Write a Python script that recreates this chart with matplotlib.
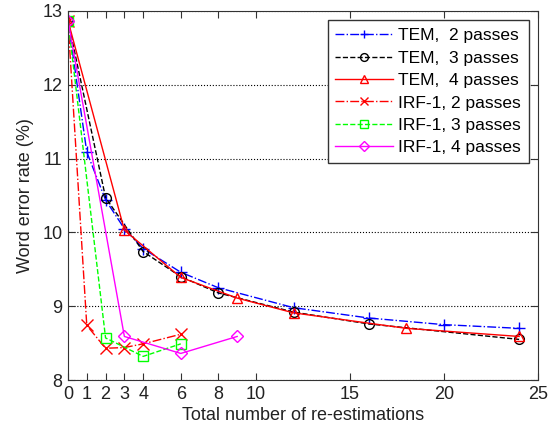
import matplotlib
matplotlib.use("Agg")
import matplotlib.pyplot as plt

plt.rcParams['font.family'] = ['Liberation Sans', 'DejaVu Sans']

# TEM series
tem2_x = [0, 1, 2, 3, 4, 6, 8, 12, 16, 20, 24]
tem2_y = [12.87, 11.09, 10.44, 10.05, 9.78, 9.46, 9.25, 8.98, 8.84, 8.75, 8.70]
tem3_x = [0, 2, 4, 6, 8, 12, 16, 24]
tem3_y = [12.87, 10.47, 9.74, 9.40, 9.18, 8.92, 8.76, 8.55]
tem4_x = [0, 3, 6, 9, 12, 18, 24]
tem4_y = [12.87, 10.03, 9.39, 9.11, 8.91, 8.70, 8.59]

# IRF-1 series
irf2_x = [0, 1, 2, 3, 4, 6]
irf2_y = [12.87, 8.74, 8.43, 8.44, 8.49, 8.62]
irf3_x = [0, 2, 4, 6]
irf3_y = [12.87, 8.57, 8.32, 8.49]
irf4_x = [0, 3, 6, 9]
irf4_y = [12.87, 8.59, 8.36, 8.59]

labels = ['TEM,  2 passes', 'TEM,  3 passes', 'TEM,  4 passes',
          'IRF-1, 2 passes', 'IRF-1, 3 passes', 'IRF-1, 4 passes']
x_ticks = [0, 1, 2, 3, 4, 6, 8, 10, 15, 20, 25]
y_ticks = [8, 9, 10, 11, 12, 13]

fig = plt.figure(figsize=(5.54, 4.29), dpi=100)
ax = fig.add_axes([0.1227, 0.1142, 0.8483, 0.8602])

series = [
    (tem2_x, tem2_y, '-.', '+'),
    (tem3_x, tem3_y, '--', 'o'),
    (tem4_x, tem4_y, '-', '^'),
    (irf2_x, irf2_y, '-.', 'x'),
    (irf3_x, irf3_y, '--', 's'),
    (irf4_x, irf4_y, '-', 'D'),
]
colors = ['#0000ff', '#000000', '#ff0000', '#ff0000', '#00ff00', '#ff00ff']
for (x, y, ls, mk), col, lab in zip(series, colors, labels):
    ms = 8 if mk in '+x' else 7
    if mk == 'D':
        ms = 6
    ax.plot(x, y, color=col, linestyle=ls, marker=mk, markersize=ms,
            markerfacecolor='none', markeredgecolor=col, linewidth=1,
            markeredgewidth=1, label=lab)

ax.set_xlim(0, 25)
ax.set_ylim(8, 13)
ax.set_xticks(x_ticks)
ax.set_yticks(y_ticks)
ax.tick_params(direction='in', top=True, right=True, labelsize=13, length=5,
               color='#333333', labelcolor='#222222', pad=4)
ax.yaxis.grid(True, linestyle=':', color='k', linewidth=0.8)
for s in ax.spines.values():
    s.set_color('#333333')

ax.set_xlabel('Total number of re-estimations', fontsize=13, color='#222222',
              labelpad=3)
ax.set_ylabel('Word error rate (%)', fontsize=13, color='#222222', labelpad=6)

leg = ax.legend(loc='upper right', fontsize=12.5, fancybox=False, framealpha=1,
                edgecolor='#333333', handlelength=3.3, borderpad=0.45,
                labelspacing=0.42, handletextpad=0.3, markerscale=0.8,
                borderaxespad=0, bbox_to_anchor=(0.98, 0.975))
leg.get_frame().set_linewidth(1)

fig.savefig('out.png', dpi=100)
